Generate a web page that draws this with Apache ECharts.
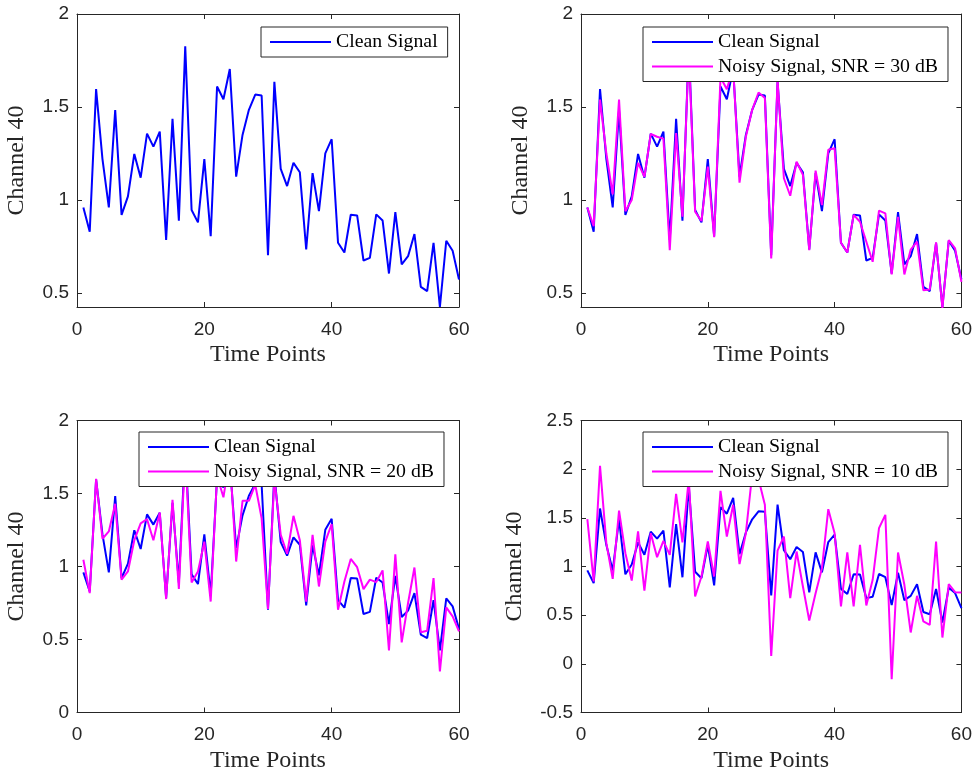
<!DOCTYPE html>
<html>
<head>
<meta charset="utf-8">
<script src="https://cdn.jsdelivr.net/npm/echarts@6/dist/echarts.min.js"></script>
<style>
html,body{margin:0;padding:0;background:#fff;}
#chart{width:975px;height:775px;}
</style>
</head>
<body>
<div id="chart"></div>
<script>
// ---- data ----
const timePoints = [1,2,3,4,5,6,7,8,9,10,11,12,13,14,15,16,17,18,19,20,21,22,23,24,25,26,27,28,29,30,31,32,33,34,35,36,37,38,39,40,41,42,43,44,45,46,47,48,49,50,51,52,53,54,55,56,57,58,59,60];
const cleanSignal = [0.96,0.83,1.596,1.22,0.96,1.483,0.92,1.02,1.248,1.12,1.357,1.287,1.368,0.785,1.436,0.889,1.826,0.946,0.88,1.22,0.806,1.61,1.542,1.704,1.126,1.35,1.485,1.567,1.562,0.704,1.636,1.167,1.075,1.2,1.149,0.734,1.145,0.94,1.251,1.327,0.77,0.718,0.921,0.917,0.675,0.689,0.923,0.89,0.605,0.935,0.654,0.698,0.817,0.533,0.51,0.77,0.425,0.781,0.727,0.573];
const noisy30 = [0.96,0.86,1.54,1.25,1.03,1.54,0.94,1.0,1.2,1.125,1.355,1.34,1.33,0.73,1.36,0.91,1.8,0.937,0.887,1.18,0.80,1.66,1.596,1.71,1.093,1.34,1.485,1.578,1.548,0.686,1.646,1.117,1.023,1.206,1.135,0.73,1.158,0.973,1.27,1.278,0.77,0.718,0.92,0.883,0.776,0.668,0.943,0.928,0.6,0.91,0.6,0.734,0.776,0.515,0.519,0.772,0.42,0.785,0.74,0.56];
const noisy20 = [1.046,0.818,1.6,1.19,1.24,1.43,0.91,0.966,1.18,1.296,1.324,1.18,1.37,0.777,1.456,0.847,1.78,0.89,0.966,1.17,0.76,1.62,1.474,1.75,1.034,1.45,1.45,1.56,1.33,0.71,1.6,1.217,1.087,1.347,1.18,0.76,1.217,0.863,1.17,1.29,0.704,0.897,1.052,0.995,0.845,0.91,0.893,0.973,0.425,1.084,0.48,0.75,0.993,0.55,0.56,0.92,0.282,0.72,0.658,0.555];
const noisy10 = [1.486,0.846,2.034,1.24,0.873,1.575,1.137,0.856,1.36,0.753,1.342,1.096,1.264,1.12,1.747,1.247,1.9,0.692,0.897,1.257,0.897,1.777,1.308,1.634,1.024,1.342,1.95,1.9,1.634,0.082,1.164,1.308,0.675,1.154,0.795,0.445,0.726,0.983,1.589,1.342,0.589,1.144,0.589,1.223,0.6,0.863,1.394,1.531,-0.158,1.144,0.812,0.322,0.699,0.435,0.4,1.257,0.27,0.818,0.736,0.733];

const seriesNames = ['Clean Signal','Noisy Signal, SNR = 30 dB','Noisy Signal, SNR = 20 dB','Noisy Signal, SNR = 10 dB'];
const xTicks = [0,20,40,60];
const xRange = [0,60];
const yTicksTop = [0.5,1,1.5,2];
const yRangeTop = [0.425,2];
const yTicksBL = [0,0.5,1,1.5,2];
const yRangeBL = [0,2];
const yTicksBR = [-0.5,0,0.5,1,1.5,2,2.5];
const yRangeBR = [-0.5,2.5];
const xAxisTitle = 'Time Points';
const yAxisTitle = 'Channel 40';

// ---- styling ----
const AX = '#262626';
const SANS = '"Liberation Sans", Arial, Helvetica, sans-serif';
const SERIF = '"Liberation Serif", "Times New Roman", serif';
const BLUE = '#0000ff', MAGENTA = '#ff00ff';

function pairs(xs, ys){ return xs.map((x,i)=>[x, ys[i]]); }

const grids = [
  {left:77, top:14, width:382, height:293},
  {left:581, top:14, width:382, height:293},
  {left:77, top:420.5, width:382, height:292},
  {left:581, top:420.5, width:382, height:292}
];
const yCfg = [
  {range:yRangeTop, ticks:yTicksTop, gap:48},
  {range:yRangeTop, ticks:yTicksTop, gap:48},
  {range:yRangeBL, ticks:yTicksBL, gap:48},
  {range:yRangeBR, ticks:yTicksBR, gap:54}
];

const xAxes = [], yAxes = [];
grids.forEach((g,i)=>{
  const line = {onZero:false, lineStyle:{color:AX, width:1}};
  const tick = {inside:true, length:5, lineStyle:{color:AX, width:1}, customValues:xTicks};
  xAxes.push({gridIndex:i, type:'value', min:xRange[0], max:xRange[1], position:'bottom',
    name:xAxisTitle, nameLocation:'middle', nameGap:36,
    nameTextStyle:{fontFamily:SERIF, fontSize:24, color:AX},
    axisLine:line, axisTick:tick,
    axisLabel:{customValues:xTicks, margin:13, fontFamily:SANS, fontSize:19, color:AX, hideOverlap:false},
    splitLine:{show:false}});
  xAxes.push({gridIndex:i, type:'value', min:xRange[0], max:xRange[1], position:'top',
    axisLine:line, axisTick:tick, axisLabel:{show:false}, splitLine:{show:false}});
  const yc = yCfg[i];
  const ytick = {inside:true, length:5, lineStyle:{color:AX, width:1}, customValues:yc.ticks};
  yAxes.push({gridIndex:i, type:'value', min:yc.range[0], max:yc.range[1], position:'left',
    name:yAxisTitle, nameLocation:'middle', nameGap:yc.gap,
    nameTextStyle:{fontFamily:SERIF, fontSize:24, color:AX},
    axisLine:line, axisTick:ytick,
    axisLabel:{customValues:yc.ticks, margin:8, fontFamily:SANS, fontSize:19, color:AX, hideOverlap:false},
    splitLine:{show:false}});
  yAxes.push({gridIndex:i, type:'value', min:yc.range[0], max:yc.range[1], position:'right',
    axisLine:line, axisTick:ytick, axisLabel:{show:false}, splitLine:{show:false}});
});

function lineSeries(name, ys, color, gi){
  return {name:name, type:'line', xAxisIndex:2*gi, yAxisIndex:2*gi, data:pairs(timePoints, ys),
    symbol:'none', color:color, lineStyle:{color:color, width:2}, clip:true, animation:false};
}
const series = [
  lineSeries(seriesNames[0], cleanSignal, BLUE, 0),
  lineSeries(seriesNames[0], cleanSignal, BLUE, 1),
  lineSeries(seriesNames[1], noisy30, MAGENTA, 1),
  lineSeries(seriesNames[0], cleanSignal, BLUE, 2),
  lineSeries(seriesNames[2], noisy20, MAGENTA, 2),
  lineSeries(seriesNames[0], cleanSignal, BLUE, 3),
  lineSeries(seriesNames[3], noisy10, MAGENTA, 3)
];

function legend(names, left, top){
  return {data:names.map(n=>({name:n, icon:'rect'})), orient:'vertical', left:left, top:top,
    padding:[5,10,5,9], itemWidth:61, itemHeight:2, itemGap:4.5, selectedMode:false,
    backgroundColor:'#ffffff', borderColor:AX, borderWidth:1, borderRadius:0,
    textStyle:{fontFamily:SERIF, fontSize:19.8, color:'#000'}};
}
const legends = [
  legend([seriesNames[0]], 261, 27),
  legend([seriesNames[0], seriesNames[1]], 643, 27),
  legend([seriesNames[0], seriesNames[2]], 139, 432),
  legend([seriesNames[0], seriesNames[3]], 643, 432)
];

const chart = echarts.init(document.getElementById('chart'), null, {renderer:'canvas'});
chart.setOption({
  animation:false,
  backgroundColor:'#ffffff',
  grid:grids,
  xAxis:xAxes,
  yAxis:yAxes,
  legend:legends,
  series:series
});
</script>
</body>
</html>
